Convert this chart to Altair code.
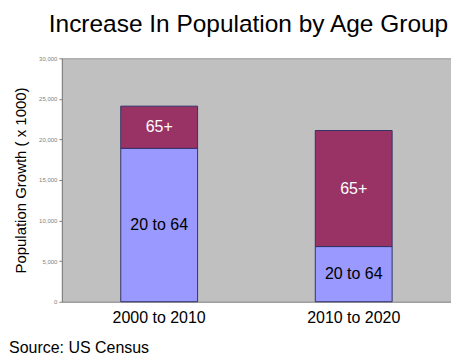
import altair as alt
import pandas as pd

periods = ["2000 to 2010", "2000 to 2010", "2010 to 2020", "2010 to 2020"]
groups = ["20 to 64", "65+", "20 to 64", "65+"]
values = [18900, 5200, 6800, 14300]
order = [0, 1, 0, 1]

df = pd.DataFrame({"period": periods, "group": groups, "value": values, "order": order})

FONT = "Liberation Sans"

base = alt.Chart(df)

bars = base.mark_bar(stroke="#333366", strokeWidth=1).encode(
    x=alt.X("period:N", title=None,
            scale=alt.Scale(paddingInner=0.605, paddingOuter=0.3026),
            axis=alt.Axis(labelAngle=0, labelFontSize=16, labelFont=FONT, labelColor="#000000",
                          ticks=False, domain=True, domainColor="#999999", labelPadding=8)),
    y=alt.Y("value:Q", stack="zero", title="Population Growth ( x 1000)",
            scale=alt.Scale(domain=[0, 30000]),
            axis=alt.Axis(values=[0, 5000, 10000, 15000, 20000, 25000, 30000], format=",d",
                          labelFontSize=6, labelColor="#808080", labelFont=FONT,
                          tickSize=3, tickColor="#808080", domainColor="#808080",
                          grid=False, titleFontSize=15, titleFont=FONT, titleColor="#000000",
                          titleFontWeight="normal", titlePadding=10, labelPadding=2)),
    color=alt.Color("group:N", scale=alt.Scale(domain=["20 to 64", "65+"], range=["#9999FF", "#993366"]),
                    legend=None),
    order=alt.Order("order:Q"),
)

labels = base.transform_stack(
    stack="value", groupby=["period"], as_=["v0", "v1"], sort=[alt.SortField("order")]
).transform_calculate(
    mid="(datum.v0 + datum.v1) / 2"
).mark_text(fontSize=16, font=FONT).encode(
    x=alt.X("period:N"),
    y=alt.Y("mid:Q"),
    text="group:N",
    color=alt.Color("group:N", scale=alt.Scale(domain=["20 to 64", "65+"], range=["#000000", "#FFFFFF"]),
                    legend=None),
)

source = base.mark_text(text="Source: US Census", fontSize=16, font=FONT, align="left",
                        baseline="alphabetic", color="#000000").encode(
    x=alt.value(-53), y=alt.value(295)
).transform_filter("datum.order == 0 && datum.period == '2000 to 2010'")

chart = alt.layer(bars, labels, source).resolve_scale(color="independent").properties(
    width=390, height=244,
    title=alt.Title("Increase In Population by Age Group", fontSize=24.5, font=FONT,
                    fontWeight="normal", color="#000000", anchor="middle", offset=18, dx=-8),
    autosize=alt.AutoSizeParams(type="none"),
    padding={"left": 54, "top": 50, "right": 0, "bottom": 54},
).configure_view(fill="#C0C0C0", stroke="#999999", strokeWidth=1)

chart.save("out.html", embed_options={"renderer": "svg", "actions": False})
